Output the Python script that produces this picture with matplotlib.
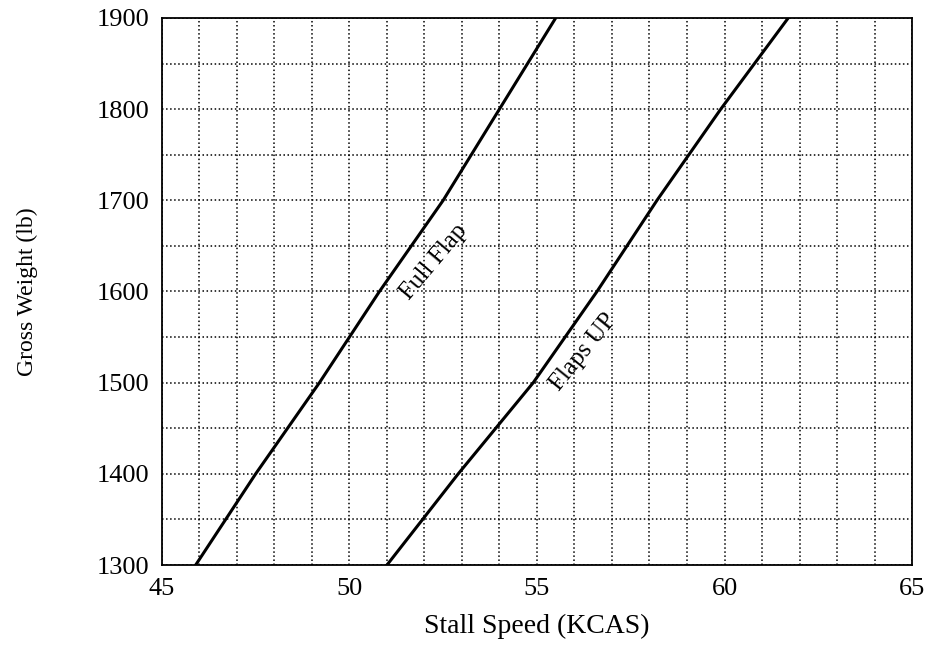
import matplotlib.pyplot as plt
from matplotlib.ticker import MultipleLocator

weight = [1300, 1400, 1500, 1600, 1700, 1800, 1900]
full_flap = [45.9, 47.5, 49.2, 50.8, 52.5, 54.0, 55.5]
flaps_up = [51.0, 52.9, 54.9, 56.6, 58.2, 59.9, 61.7]

plt.rcParams['font.family'] = ['Liberation Serif', 'DejaVu Serif']

fig = plt.figure(figsize=(9.25, 6.64), dpi=100)
ax = fig.add_axes([0.175, 0.149, 0.811, 0.824])

ax.plot(full_flap, weight, color='black', lw=2.2)
ax.plot(flaps_up, weight, color='black', lw=2.2)

ax.set_xlim(45, 65)
ax.set_ylim(1300, 1900)
ax.xaxis.set_major_locator(MultipleLocator(5))
ax.xaxis.set_minor_locator(MultipleLocator(1))
ax.yaxis.set_major_locator(MultipleLocator(100))
ax.yaxis.set_minor_locator(MultipleLocator(50))
ax.grid(which='both', linestyle=':', color='black', lw=1.1)
ax.tick_params(which='both', direction='in', length=0, labelsize=19)
ax.tick_params(axis='x', pad=9)
ax.tick_params(axis='y', pad=9)
for s in ax.spines.values():
    s.set_linewidth(1.3)

ax.text(52.25, 1632, 'Full Flap', rotation=50, ha='center', va='center', fontsize=18)
ax.text(56.25, 1533, 'Flaps UP', rotation=51, ha='center', va='center', fontsize=18)

ax.set_xlabel('Stall Speed (KCAS)', fontsize=20, labelpad=10)
ax.set_ylabel('Gross Weight (lb)', fontsize=17, labelpad=42)

fig.savefig('out.png', dpi=100)
